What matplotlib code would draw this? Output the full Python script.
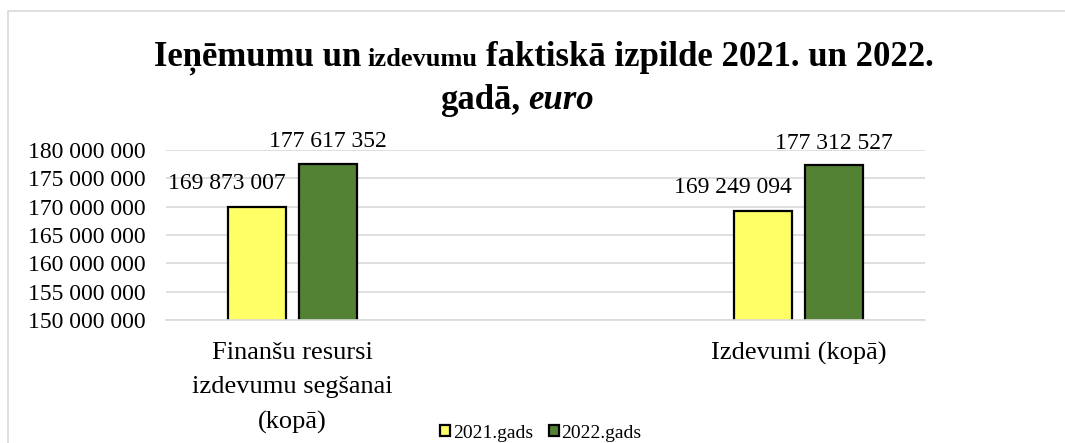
import matplotlib
matplotlib.use("Agg")
import matplotlib.pyplot as plt
from matplotlib.patches import Rectangle
import numpy as np

# Dati
categories = ["Finanšu resursi\nizdevumu segšanai\n(kopā)", "Izdevumi (kopā)"]
series_names = ["2021.gads", "2022.gads"]
values_2021 = [169873007, 169249094]
values_2022 = [177617352, 177312527]
y_ticks = [150000000, 155000000, 160000000, 165000000, 170000000, 175000000, 180000000]

W, H = 1065, 443
plt.rcParams['font.family'] = ['Liberation Serif', 'DejaVu Serif']

fig = plt.figure(figsize=(W / 100, H / 100), dpi=100)
ax = fig.add_axes([166 / W, 1 - 320 / H, (925 - 166) / W, 170 / H])


def fmt(v):
    return f"{v:,}".replace(",", " ")


x = np.arange(len(categories))
bw = 0.114
off = 0.0708
b1 = ax.bar(x - off, values_2021, bw, color='#FFFF66', edgecolor='black', linewidth=1.6,
            label=series_names[0], zorder=2)
b2 = ax.bar(x + off, values_2022, bw, color='#548235', edgecolor='black', linewidth=1.6,
            label=series_names[1], zorder=2)

for xi, v in zip(x, values_2021):
    ax.annotate(fmt(v), (xi - off + bw / 2, v), xytext=(0, 13), textcoords='offset points',
                ha='right', va='baseline', fontsize=17)
for xi, v in zip(x, values_2022):
    ax.annotate(fmt(v), (xi + off, v), xytext=(0, 12), textcoords='offset points',
                ha='center', va='baseline', fontsize=17)

ax.set_xlim(-0.25, 1.25)
ax.set_ylim(y_ticks[0], y_ticks[-1])
ax.set_yticks(y_ticks, [fmt(t) for t in y_ticks])
ax.set_xticks(x, categories)
ax.tick_params(axis='y', length=0, pad=15, labelsize=17)
ax.tick_params(axis='x', length=0, pad=16, labelsize=19)
for lab in ax.get_xticklabels():
    lab.set_linespacing(1.72)
ax.grid(axis='y', color='#D9D9D9', linewidth=1.2, zorder=0)
ax.set_axisbelow(True)
for s in ['top', 'right', 'left']:
    ax.spines[s].set_visible(False)
ax.spines['bottom'].set_color('#D9D9D9')
ax.spines['bottom'].set_linewidth(1.2)
ax.spines['bottom'].set_zorder(3)

# legenda
fig.legend(handles=[b1, b2], loc='center', bbox_to_anchor=(541 / W, 1 - 433 / H), ncol=2,
           frameon=False, fontsize=14, handlelength=0.5, handleheight=0.5,
           handletextpad=0.15, columnspacing=0.8, borderpad=0)

# rāmis
fig.patches.append(Rectangle((8 / W, -0.1), 1.2, 1.1 - 11 / H, transform=fig.transFigure,
                             fill=False, edgecolor='#D9D9D9', linewidth=1.2))

# virsraksts ar jauktiem fontiem
r = fig.canvas.get_renderer()


def width(t):
    return t.get_window_extent(renderer=r).width


def place_line(pieces, cx, base_y):
    texts = []
    for s, size, style in pieces:
        t = fig.text(0, 0, s, fontsize=size, fontweight='bold', fontstyle=style,
                     ha='left', va='baseline')
        texts.append(t)
    sp = [width(fig.text(0, 0, "a a", fontsize=p[1], fontweight='bold')) -
          width(fig.text(0, 0, "aa", fontsize=p[1], fontweight='bold')) for p in pieces]
    for t in fig.texts[len(fig.texts) - 2 * len(pieces):]:
        t.remove()
    ws = [width(t) for t in texts]
    total = sum(ws) + sum(sp[1:])
    xpos = cx - total / 2
    for i, t in enumerate(texts):
        if i > 0:
            xpos += sp[i]
        t.set_position((xpos / W, 1 - base_y / H))
        xpos += ws[i]


place_line([("Ieņēmumu un", 25, 'normal'), ("izdevumu", 19, 'normal'),
            ("faktiskā izpilde 2021. un 2022.", 25, 'normal')], 544, 66)
place_line([("gadā,", 25, 'normal'), ("euro", 25, 'italic')], 517, 109)

fig.savefig("out.png", dpi=100)
